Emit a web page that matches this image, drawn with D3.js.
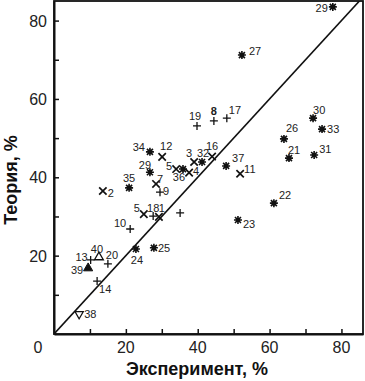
<!DOCTYPE html>
<html><head><meta charset="utf-8">
<script src="https://cdn.jsdelivr.net/npm/d3@7"></script>
<style>
html,body{margin:0;padding:0;background:#fff;}
svg{display:block;font-family:"Liberation Sans",Arial,sans-serif;}
</style></head>
<body><svg id="chart" width="365" height="381"></svg>
<script>
// ---- data ----
const pointLabels = ["29","27","19","8","17","30","33","26","21","31","37","11","16","3","32","4","36","5","12","34","29","7","9","35","2","5","18","1","","23","22","10","24","25","20","13","40","39","14","38"];
const experiment = [77.6,52.3,39.8,44.5,48.1,72.1,74.6,64.0,65.4,72.4,47.9,51.8,44.0,39.0,41.2,37.6,35.9,34.0,30.1,26.7,26.7,28.4,29.5,20.9,13.6,25.0,27.6,29.2,35.1,51.2,61.2,21.2,22.8,27.8,15.0,10.2,12.5,9.5,12.0,7.0];
const theory     = [83.5,71.2,53.1,54.4,55.1,55.1,52.3,49.8,44.9,45.7,42.9,40.9,45.3,43.9,43.9,41.2,42.1,42.1,45.2,46.5,41.3,38.3,36.2,37.3,36.5,30.6,30.1,29.9,30.9,29.1,33.4,26.8,21.7,22.0,17.9,18.9,19.6,16.8,13.5,5.1];
const markerType = ["ast","ast","plus","plus","plus","ast","ast","ast","ast","ast","ast","x","x","x","ast","x","ast","x","x","ast","ast","x","plus","ast","x","x","plus","x","plus","ast","ast","plus","ast","ast","plus","plus","tri","triFill","plus","triDown"];
const xTickLabels = [20,40,60,80];
const yTickLabels = [20,40,60,80];
const minorTicks = [10,20,30,40,50,60,70,80];
// label placement (layout only): [dx, dy, anchor]
const labelLayout = [
 [-5,5,"end"],[7,0,"start"],[-2,-6,"middle"],[0,-6,"middle"],[2,-4,"start"],[0,-4,"start"],[5,4,"start"],[2,-7,"start"],[-1,-4,"start"],[5,-2,"start"],
 [6,-4,"start"],[4,-1,"start"],[0,-7,"middle"],[-5,-5,"middle"],[1,-5,"middle"],[4,2,"start"],[-4,12,"middle"],[-4,1,"end"],[4,-7,"middle"],[-5,-1,"end"],
 [-5,-3,"middle"],[1,-1,"start"],[3,3,"start"],[0,-6,"middle"],[5,6,"start"],[-4,-2,"end"],[0,-4,"middle"],[3,-5,"middle"],[0,0,"start"],[5,8,"start"],
 [5,-4,"start"],[-4,-2,"end"],[1,15,"middle"],[4,4,"start"],[4,-5,"middle"],[-3,1,"end"],[-2,-4,"middle"],[-5,6,"end"],[2,12,"start"],[5,4,"start"]
];

const svg = d3.select("#chart");
const x = d3.scaleLinear().domain([0,86]).range([54,363]);
const y = d3.scaleLinear().domain([0,85]).range([334,1]);

// frame
svg.append("rect").attr("x",54).attr("y",1).attr("width",309).attr("height",333)
  .attr("fill","none").attr("stroke","#111").attr("stroke-width",1.8);

// diagonal y = x
svg.append("defs").append("clipPath").attr("id","clip").append("rect")
  .attr("x",54).attr("y",1).attr("width",309).attr("height",333);
svg.append("line").attr("clip-path","url(#clip)")
  .attr("x1",x(0)).attr("y1",y(0)).attr("x2",x(86)).attr("y2",y(86))
  .attr("stroke","#111").attr("stroke-width",1.6);

// axes
const xAxis = d3.axisBottom(x).tickValues(minorTicks).tickSizeInner(-5).tickSizeOuter(0).tickFormat("");
const gx = svg.append("g").attr("transform","translate(0,334)").call(xAxis);
gx.select(".domain").attr("stroke","#111").attr("stroke-width",2);
gx.selectAll(".tick line").attr("stroke","#111").attr("stroke-width",1.5);
const yAxis = d3.axisLeft(y).tickValues(minorTicks).tickSizeInner(-5).tickSizeOuter(0).tickFormat("");
const gy = svg.append("g").attr("transform","translate(54,0)").call(yAxis);
gy.select(".domain").attr("stroke","#111").attr("stroke-width",2);
gy.selectAll(".tick line").attr("stroke","#111").attr("stroke-width",1.5);

svg.selectAll(".xl").data(xTickLabels).enter().append("text")
  .attr("x",d=>x(d)).attr("y",353).attr("text-anchor","middle")
  .attr("font-size",16).attr("fill","#222").text(d=>d);
svg.append("text").attr("x",38).attr("y",353).attr("text-anchor","middle")
  .attr("font-size",16).attr("fill","#222").text("0");
svg.selectAll(".yl").data(yTickLabels).enter().append("text")
  .attr("x",47).attr("y",d=>y(d)+6).attr("text-anchor","end")
  .attr("font-size",16).attr("fill","#222").text(d=>d);

svg.append("text").attr("x",197).attr("y",375).attr("text-anchor","middle")
  .attr("font-size",18).attr("font-weight","bold").attr("fill","#111").text("Эксперимент, %");
svg.append("text").attr("transform","translate(17,180) rotate(-90)").attr("text-anchor","middle")
  .attr("font-size",18).attr("font-weight","bold").attr("fill","#111").text("Теория, %");

// markers
const pts = experiment.map((e,i)=>({x:e,y:theory[i],t:markerType[i],lab:pointLabels[i],l:labelLayout[i]}));
const g = svg.append("g");
pts.forEach(p=>{
  const px = x(p.x), py = y(p.y);
  const m = g.append("g").attr("transform",`translate(${px},${py})`);
  if(p.t==="ast"){
    m.append("path").attr("d","M-4,0H4M0,-4V4M-3,-3L3,3M-3,3L3,-3").attr("stroke","#111").attr("stroke-width",1.6);
    m.append("circle").attr("r",2.3).attr("fill","#111");
  } else if(p.t==="x"){
    m.append("path").attr("d","M-3.7,-3.7L3.7,3.7M-3.7,3.7L3.7,-3.7").attr("stroke","#111").attr("stroke-width",1.7);
  } else if(p.t==="plus"){
    m.append("path").attr("d","M-4,0H4M0,-4V4").attr("stroke","#111").attr("stroke-width",1.3);
  } else if(p.t==="tri"){
    m.append("path").attr("d",d3.symbol(d3.symbolTriangle,34)()).attr("fill","#fff").attr("stroke","#111").attr("stroke-width",1.3);
  } else if(p.t==="triFill"){
    m.append("path").attr("d",d3.symbol(d3.symbolTriangle,36)()).attr("fill","#111").attr("stroke","#111").attr("stroke-width",1);
  } else if(p.t==="triDown"){
    m.append("path").attr("d",d3.symbol(d3.symbolTriangle,30)()).attr("transform","rotate(180)").attr("fill","#fff").attr("stroke","#111").attr("stroke-width",1.2);
  }
  if(p.lab){
    g.append("text").attr("x",px+p.l[0]).attr("y",py+p.l[1]).attr("text-anchor",p.l[2])
      .attr("font-size",11).attr("fill","#222").attr("font-weight",p.lab==="8"?"bold":"normal").text(p.lab);
  }
});
</script></body></html>
